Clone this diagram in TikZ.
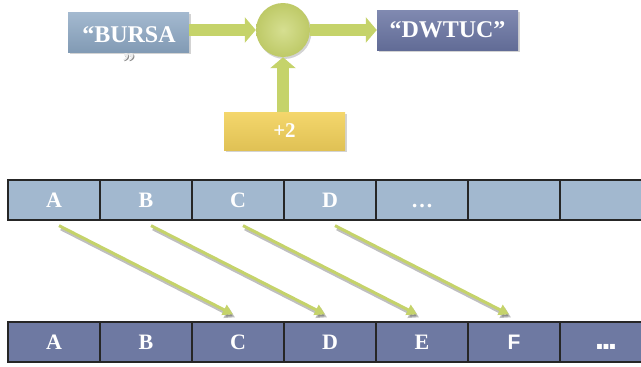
\documentclass[tikz,border=0pt]{standalone}
\usepackage{fontspec}
\setmainfont{Liberation Serif}
\newfontfamily\arialf{Liberation Sans}
\usetikzlibrary{arrows.meta,shadows,calc}

\definecolor{bursablue}{HTML}{8DA8C4}
\definecolor{dwblue}{HTML}{6A75A3}
\definecolor{goldbox}{HTML}{F3D25C}
\definecolor{ballgreen}{HTML}{C8D46C}
\definecolor{arrowgreen}{HTML}{C5D36A}
\definecolor{toprow}{HTML}{A2B8CF}
\definecolor{botrow}{HTML}{6E79A2}

\newcommand\serifdots{\vphantom{A}\textellipsis}
\newcommand\sansdots{{\arialf\fontsize{21}{21}\selectfont\vphantom{F}\fontsize{34}{34}\selectfont.\kern-3pt.\kern-3pt.}}
\newcommand\sansF{{\arialf\fontsize{21}{21}\selectfont F}}

\tikzset{
  softshadow/.style={drop shadow={opacity=0.35, shadow xshift=1.5pt, shadow yshift=-2pt}},
  wordbox/.style={minimum height=40pt, inner sep=0pt, softshadow},
  boxtxt/.style={text=white, inner sep=0pt, font=\bfseries\fontsize{24}{26}\selectfont},
  fatarrow/.style={draw=arrowgreen, line width=12pt, -{Triangle[length=11pt,width=25pt]}},
  thinarrow/.style={draw=arrowgreen, line width=3pt, -{Triangle[length=10pt,width=11pt]}},
  thinshadow/.style={draw=black, opacity=0.25, line width=3.5pt, -{Triangle[length=10pt,width=11pt]}},
  cell/.style={draw=black!85, line width=1.3pt, minimum width=92pt, minimum height=40pt,
    inner sep=0pt, text=white, font=\bfseries\fontsize{22}{24}\selectfont},
  topcell/.style={cell, fill=toprow},
  botcell/.style={cell, fill=botrow},
}

\begin{document}
\begin{tikzpicture}[x=1pt,y=-1pt]
\useasboundingbox (0,0) rectangle (641,367);

% upper block diagram: plaintext, adder, key and ciphertext
\node[wordbox, minimum width=121pt, top color=bursablue!80!white, bottom color=bursablue!92!black] (bursa) at (128.5,32) {};
\node[boxtxt, anchor=base] (bursaA) at (129,42) {“BURSA};
\node[boxtxt, anchor=base, text=black!45] (bursaS) at (129.5,70.5) {”};
\node[boxtxt, anchor=base, text=white!92!black] (bursaB) at (128.5,69) {”};

\node[circle, minimum size=54pt, inner sep=0pt, inner color=ballgreen!75!white, outer color=ballgreen!95!black, softshadow] (adder) at (283,30) {};

\node[wordbox, minimum width=141pt, top color=dwblue!85!white, bottom color=dwblue!92!black] (dwtuc) at (447.5,30) {};
\node[boxtxt] at (dwtuc) {“DWTUC”};

\node[wordbox, minimum width=121pt, minimum height=38pt, top color=goldbox!90!white, bottom color=goldbox!92!black] (key) at (284.5,131) {};
\node[boxtxt, font=\bfseries\fontsize{21}{23}\selectfont] at (key) {+2};

\draw[fatarrow] (adder.west -| bursa.east) -- (adder.west);
\draw[fatarrow] (adder.east) -- (adder.east -| dwtuc.west);
\draw[fatarrow] (key.north -| adder.south) -- (adder.south);

% alphabet rows
\foreach \lab [count=\i] in {A,B,C,D,\serifdots,{},{}}
  \node[topcell] (t\i) at (54+92*\i-92,200) {\lab};
\foreach \lab [count=\i] in {A,B,C,D,E,\sansF,\sansdots}
  \node[botcell] (b\i) at (54+92*\i-92,342) {\lab};

% shift-by-two arrows
\foreach \i/\j in {1/3,2/4,3/5,4/6}{
  \draw[thinshadow] ($(t\i.south)+(7,8)$) -- ($(b\j.north)+(-3,-4)$);
  \draw[thinarrow] ($(t\i.south)+(5,5)$) -- ($(b\j.north)+(-5,-7)$);
}
\end{tikzpicture}
\end{document}
